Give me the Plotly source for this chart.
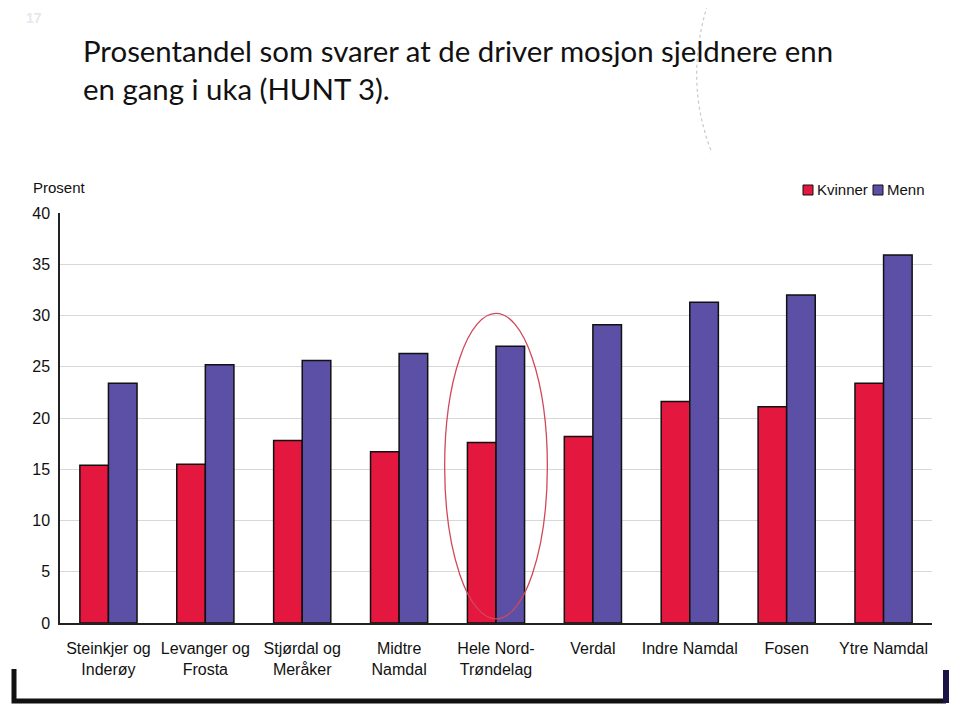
import plotly.graph_objects as go

categories = ["Steinkjer og<br>Inderøy", "Levanger og<br>Frosta", "Stjørdal og<br>Meråker",
              "Midtre<br>Namdal", "Hele Nord-<br>Trøndelag", "Verdal", "Indre Namdal",
              "Fosen", "Ytre Namdal"]
kvinner = [15.4, 15.5, 17.8, 16.7, 17.6, 18.2, 21.6, 21.1, 23.4]
menn = [23.4, 25.2, 25.6, 26.3, 27.0, 29.1, 31.3, 32.0, 35.9]
y_ticks = [0, 5, 10, 15, 20, 25, 30, 35, 40]
series_names = ["Kvinner", "Menn"]

RED = "#E4173E"
BLUE = "#5B4FA6"

OFF = 8  # page body margin
W, H = 959 - OFF, 716 - OFF
# plot area in screen coords: x 60..932, y 213..623
L, R, T, B = 60 - OFF, 959 - 932, 213 - OFF, 716 - 623
pw, ph = W - L - R, H - T - B

def px(x):  # screen x -> paper
    return (x - OFF - L) / pw

def py(y):  # screen y -> paper
    return (H - B - (y - OFF)) / ph

fig = go.Figure()
fig.add_bar(x=categories, y=kvinner, name=series_names[0],
            marker=dict(color=RED, line=dict(color="#111", width=1.5)))
fig.add_bar(x=categories, y=menn, name=series_names[1],
            marker=dict(color=BLUE, line=dict(color="#111", width=1.5)))

fig.update_layout(
    width=W, height=H,
    margin=dict(l=L, r=R, t=T, b=B),
    paper_bgcolor="white", plot_bgcolor="white",
    barmode="group", bargap=0.41, bargroupgap=0,
    font=dict(family="Liberation Sans, Arial, sans-serif", size=16, color="#111"),
    title=dict(
        text="Prosentandel som svarer at de driver mosjon sjeldnere enn<br>en gang i uka (HUNT 3).",
        x=(83 - OFF) / W, xanchor="left", y=1 - (62 - OFF) / H, yanchor="top",
        font=dict(family="Lato, sans-serif", size=29.4, color="#111"),
    ),
    showlegend=False,
)
fig.update_yaxes(range=[0, 40], tickvals=y_ticks, showgrid=True, gridcolor="#d8d8d8", gridwidth=1,
                 showline=True, linecolor="#222", linewidth=1.5, zeroline=False,
                 ticks="", ticklabelstandoff=5, tickfont=dict(size=16))
fig.update_xaxes(showline=True, linecolor="#222", linewidth=1.5, ticks="",
                 ticklabelstandoff=10, tickfont=dict(size=16))

# "Prosent" axis label
fig.add_annotation(text="Prosent", xref="paper", yref="paper", x=px(31), y=py(188),
                   xanchor="left", yanchor="middle", showarrow=False, font=dict(size=15))
# faint slide number
fig.add_annotation(text="<b>17</b>", xref="paper", yref="paper", x=px(24), y=py(18),
                   xanchor="left", yanchor="middle", showarrow=False,
                   font=dict(size=14, color="#e3e8f0"))

# legend (drawn manually for compact look)
for name, color, sx in [(series_names[0], RED, 803), (series_names[1], BLUE, 873)]:
    fig.add_shape(type="rect", xref="paper", yref="paper",
                  x0=px(sx), x1=px(sx + 10), y0=py(195), y1=py(185),
                  fillcolor=color, line=dict(color="#111", width=1))
    fig.add_annotation(text=name, xref="paper", yref="paper", x=px(sx + 12), y=py(190),
                       xanchor="left", yanchor="middle", showarrow=False, font=dict(size=15))

# red ellipse around "Hele Nord-Trøndelag"
fig.add_shape(type="circle", xref="x", yref="y", x0=3.47, x1=4.53, y0=0.4, y1=30.2,
              line=dict(color="#D0485A", width=1.3), layer="above")

# faint dashed scan arc at top
fig.add_shape(type="path", xref="paper", yref="paper",
              path=f"M {px(709)},{py(0)} Q {px(683)},{py(80)} {px(712)},{py(153)}",
              line=dict(color="#c8c8c8", width=1.2, dash="dot"))

# bottom frame bracket
fig.add_shape(type="path", xref="paper", yref="paper",
              path=f"M {px(14)},{py(669)} L {px(14)},{py(701)} L {px(946)},{py(701)}",
              line=dict(color="#111", width=5))
fig.add_shape(type="path", xref="paper", yref="paper",
              path=f"M {px(946)},{py(670)} L {px(946)},{py(703)}",
              line=dict(color="#1b1445", width=6))

fig.write_html("out.html")
